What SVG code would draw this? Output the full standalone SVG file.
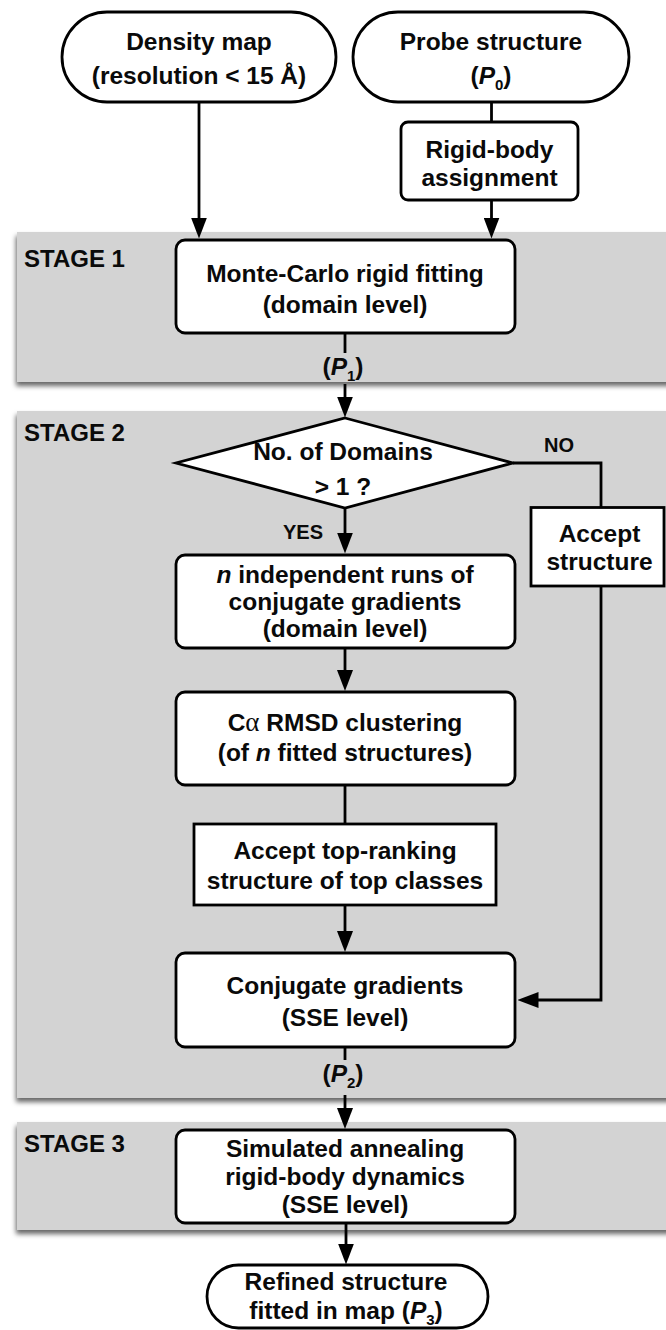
<svg xmlns="http://www.w3.org/2000/svg" width="666" height="1330" viewBox="0 0 666 1330">
<defs>
<style>
text{font-family:"Liberation Sans",Arial,Helvetica,sans-serif;font-weight:bold;font-size:24.5px;fill:#0a0a0a;text-anchor:middle}
.stage{font-size:24px;text-anchor:start}
.small{font-size:20px}
.panel{fill:#d3d3d3;filter:url(#shadow)}
.box{fill:#fff;stroke:#000;stroke-width:2.8}
.ln{fill:none;stroke:#000;stroke-width:2.8}
.arr{fill:none;stroke:#000;stroke-width:2.8;marker-end:url(#ah)}
.it{font-style:italic}
.sub{font-size:15px}
.greek{font-family:"Liberation Serif","Times New Roman",serif;font-weight:normal;font-size:27px}
</style>
<marker id="ah" markerUnits="userSpaceOnUse" markerWidth="21" markerHeight="16" refX="13" refY="8" orient="auto">
<path d="M0,0 L21,8 L0,16 Z" fill="#000"/>
</marker>
<filter id="shadow" x="-5%" y="-10%" width="110%" height="130%">
<feGaussianBlur in="SourceAlpha" stdDeviation="2.5"/>
<feOffset dx="-1" dy="4" result="b"/>
<feFlood flood-color="#000" flood-opacity="0.6"/>
<feComposite in2="b" operator="in"/>
<feMerge><feMergeNode/><feMergeNode in="SourceGraphic"/></feMerge>
</filter>
</defs>
<rect width="666" height="1330" fill="#fff"/>

<g id="stage1">
<rect class="panel" x="17" y="232" width="680" height="150"/>
<text class="stage" x="24" y="266.5">STAGE 1</text>
</g>
<g id="stage2">
<rect class="panel" x="17" y="411" width="680" height="687"/>
<text class="stage" x="24" y="440.5">STAGE 2</text>
</g>
<g id="stage3">
<rect class="panel" x="17" y="1122" width="680" height="108"/>
<text class="stage" x="24" y="1151.5">STAGE 3</text>
</g>

<g id="connectors">
<path class="arr" d="M199,102 V230.5"/>
<path class="ln" d="M491.5,102 V122"/>
<path class="arr" d="M491.5,200 V230.5"/>
<path class="ln" d="M345,333 V353"/>
<path class="arr" d="M345,384 V409.5"/>
<path class="ln" d="M513,463 H601 V507.5"/>
<path class="arr" d="M345,508 V545.5"/>
<path class="arr" d="M601,586 V1000 H525.5"/>
<path class="arr" d="M345,648 V683"/>
<path class="ln" d="M345,785 V824"/>
<path class="arr" d="M345,905 V944"/>
<path class="ln" d="M345,1047 V1060"/>
<path class="arr" d="M345,1095 V1121"/>
<path class="arr" d="M346,1223 V1256.5"/>
<text x="343" y="375">(<tspan class="it">P</tspan><tspan class="sub" dy="6">1</tspan><tspan dy="-6">)</tspan></text>
<text x="343" y="1081.5">(<tspan class="it">P</tspan><tspan class="sub" dy="6">2</tspan><tspan dy="-6">)</tspan></text>
<text class="small" x="559" y="451.5">NO</text>
<text class="small" x="303" y="538.5">YES</text>
</g>

<g id="density-map">
<rect class="box" x="62" y="12" width="274" height="90" rx="45" ry="45"/>
<text x="199" y="50">Density map</text>
<text x="199" y="84">(resolution &lt; 15 Å)</text>
</g>
<g id="probe-structure">
<rect class="box" x="353" y="12" width="276" height="90" rx="45" ry="45"/>
<text x="491" y="50">Probe structure</text>
<text x="491" y="84">(<tspan class="it">P</tspan><tspan class="sub" dy="6">0</tspan><tspan dy="-6">)</tspan></text>
</g>
<g id="rigid-body">
<rect class="box" x="401" y="122" width="177" height="78" rx="7" ry="7"/>
<text x="489.5" y="158">Rigid-body</text>
<text x="489.5" y="185.5">assignment</text>
</g>
<g id="monte-carlo">
<rect class="box" x="176" y="240" width="339" height="93" rx="9" ry="9"/>
<text x="345" y="281.5">Monte-Carlo rigid fitting</text>
<text x="345" y="313">(domain level)</text>
</g>
<g id="domains-decision">
<polygon class="box" points="345,418 513,463 345,508 176,463"/>
<text x="343" y="460">No. of Domains</text>
<text x="343" y="495">&gt; 1 ?</text>
</g>
<g id="accept-structure">
<rect class="box" x="531" y="507.5" width="133" height="78.5"/>
<text x="599.5" y="541.5">Accept</text>
<text x="599.5" y="570">structure</text>
</g>
<g id="independent-runs">
<rect class="box" x="176" y="555" width="339" height="93" rx="9" ry="9"/>
<text x="345" y="583"><tspan class="it">n</tspan> independent runs of</text>
<text x="345" y="610">conjugate gradients</text>
<text x="345" y="637">(domain level)</text>
</g>
<g id="rmsd-clustering">
<rect class="box" x="176" y="692" width="339" height="93" rx="9" ry="9"/>
<text x="345" y="731">C<tspan class="greek">α</tspan> RMSD clustering</text>
<text x="345" y="761">(of <tspan class="it">n</tspan> fitted structures)</text>
</g>
<g id="accept-top">
<rect class="box" x="194" y="824" width="302" height="81"/>
<text x="345" y="858.5">Accept top-ranking</text>
<text x="345" y="888.5">structure of top classes</text>
</g>
<g id="conjugate-sse">
<rect class="box" x="176" y="953" width="339" height="94" rx="9" ry="9"/>
<text x="345" y="994">Conjugate gradients</text>
<text x="345" y="1025.5">(SSE level)</text>
</g>
<g id="simulated-annealing">
<rect class="box" x="176" y="1130" width="339" height="93" rx="9" ry="9"/>
<text x="345" y="1157">Simulated annealing</text>
<text x="345" y="1185">rigid-body dynamics</text>
<text x="345" y="1213">(SSE level)</text>
</g>
<g id="refined-structure">
<rect class="box" x="207" y="1265" width="281" height="63" rx="31.5" ry="31.5"/>
<text x="346" y="1290">Refined structure</text>
<text x="346" y="1319">fitted in map (<tspan class="it">P</tspan><tspan class="sub" dy="6">3</tspan><tspan dy="-6">)</tspan></text>
</g>
</svg>
